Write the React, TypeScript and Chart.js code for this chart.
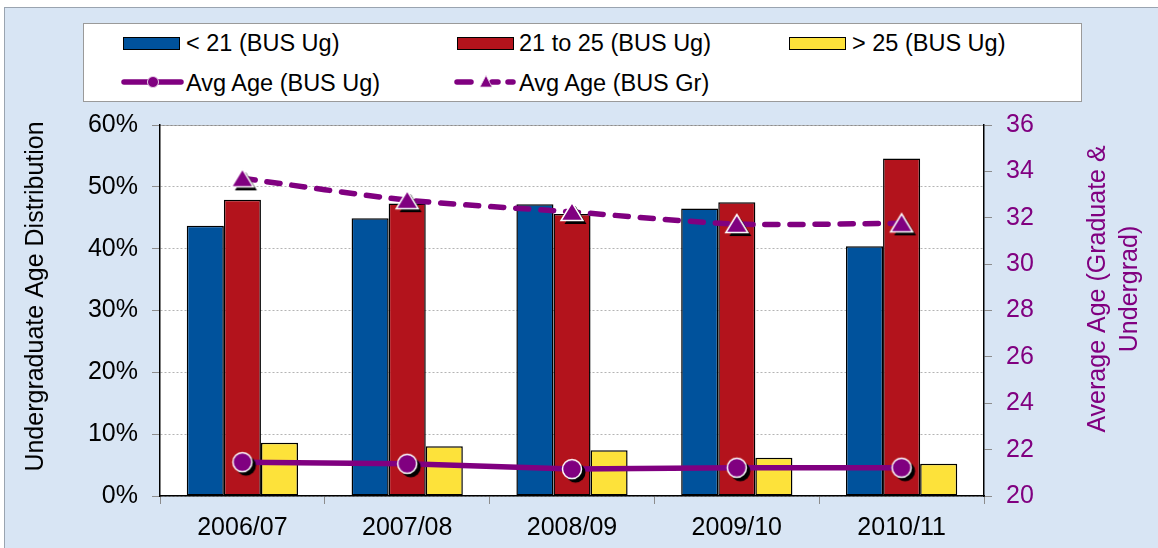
import React, { useEffect, useRef } from 'react';
import { Chart, registerables } from 'chart.js';

Chart.register(...registerables);

// ---- data ----
const categories = ['2006/07', '2007/08', '2008/09', '2009/10', '2010/11'];
const under21 = [43.7, 44.9, 47.2, 46.5, 40.4];
const from21to25 = [47.9, 47.3, 45.6, 47.5, 54.6];
const over25 = [8.6, 8.05, 7.4, 6.2, 5.2];
const avgAgeUg = [21.46, 21.39, 21.16, 21.22, 21.22];
const avgAgeGr = [33.7, 32.76, 32.25, 31.73, 31.76];
const leftTicks = { min: 0, max: 60, step: 10 };
const rightTicks = { min: 20, max: 36, step: 2 };
const leftTitle = 'Undergraduate Age Distribution';
const rightTitleLines = ['Average Age (Graduate &', 'Undergrad)'];
const seriesNames = ['< 21 (BUS Ug)', '21 to 25 (BUS Ug)', '> 25 (BUS Ug)', 'Avg Age (BUS Ug)', 'Avg Age (BUS Gr)'];

const BLUE = '#00529c';
const RED = '#b3131c';
const YELLOW = '#fde23a';
const PURPLE = '#800080';
const FONT = '"Liberation Sans", Arial, sans-serif';

function makeCircle(): HTMLCanvasElement {
  const c = document.createElement('canvas');
  c.width = 32; c.height = 32;
  const ctx = c.getContext('2d')!;
  ctx.fillStyle = '#000';
  ctx.beginPath(); ctx.arc(19.5, 19.5, 10, 0, Math.PI * 2); ctx.fill();
  ctx.fillStyle = PURPLE;
  ctx.strokeStyle = '#fff';
  ctx.lineWidth = 1.5;
  ctx.beginPath(); ctx.arc(16, 16, 9.5, 0, Math.PI * 2); ctx.fill(); ctx.stroke();
  return c;
}

function makeTriangle(): HTMLCanvasElement {
  const c = document.createElement('canvas');
  c.width = 34; c.height = 34;
  const ctx = c.getContext('2d')!;
  const tri = (cx: number, cy: number) => {
    ctx.beginPath();
    ctx.moveTo(cx, cy - 9.5);
    ctx.lineTo(cx + 11, cy + 8.5);
    ctx.lineTo(cx - 11, cy + 8.5);
    ctx.closePath();
  };
  ctx.fillStyle = '#000';
  tri(20.5, 20.5); ctx.fill();
  ctx.fillStyle = PURPLE;
  ctx.strokeStyle = '#fff';
  ctx.lineWidth = 1.5;
  tri(17, 17); ctx.fill(); ctx.stroke();
  return c;
}

const titlesPlugin = {
  id: 'customTitles',
  beforeDraw(chart: any) {
    const { ctx, chartArea } = chart;
    ctx.save();
    ctx.fillStyle = '#fff';
    ctx.fillRect(chartArea.left, chartArea.top, chartArea.right - chartArea.left, chartArea.bottom - chartArea.top);
    ctx.strokeStyle = '#8c8c8c';
    ctx.lineWidth = 1;
    ctx.beginPath();
    ctx.moveTo(chartArea.left, chartArea.top + 0.5);
    ctx.lineTo(chartArea.right, chartArea.top + 0.5);
    ctx.stroke();
    ctx.restore();
  },
  afterDraw(chart: any) {
    const { ctx } = chart;
    ctx.save();
    ctx.font = `25px ${FONT}`;
    ctx.textAlign = 'center';
    ctx.textBaseline = 'middle';
    ctx.fillStyle = '#000';
    ctx.translate(36.5, 296.5);
    ctx.rotate(-Math.PI / 2);
    ctx.fillText(leftTitle, 0, 0);
    ctx.restore();

    ctx.save();
    ctx.font = `25px ${FONT}`;
    ctx.textAlign = 'center';
    ctx.textBaseline = 'middle';
    ctx.fillStyle = PURPLE;
    const xs = [1098, 1130];
    rightTitleLines.forEach((line, i) => {
      ctx.save();
      ctx.translate(xs[i], 289);
      ctx.rotate(-Math.PI / 2);
      ctx.fillText(line, 0, 0);
      ctx.restore();
    });
    ctx.restore();
  },
};

function Legend() {
  const textStyle = (left: number, top: number): React.CSSProperties => ({
    position: 'absolute', left, top, font: `23.5px ${FONT}`, lineHeight: '26px', color: '#000', whiteSpace: 'nowrap',
  });
  const box = (left: number, color: string): React.CSSProperties => ({
    position: 'absolute', left, top: 36.5, width: 57, height: 13, background: color,
    border: '1.5px solid #000', boxSizing: 'border-box',
  });
  return (
    <div>
      <div style={{ position: 'absolute', left: 83, top: 23, width: 999, height: 79, background: '#fff', border: '1px solid #9a9a9a', boxSizing: 'border-box' }} />
      <div style={box(123, BLUE)} />
      <div style={textStyle(186, 30)}>{seriesNames[0]}</div>
      <div style={box(457, RED)} />
      <div style={textStyle(519, 30)}>{seriesNames[1]}</div>
      <div style={box(789, YELLOW)} />
      <div style={textStyle(852, 30)}>{seriesNames[2]}</div>
      <svg style={{ position: 'absolute', left: 121, top: 72 }} width={64} height={20}>
        <line x1={3} y1={10} x2={60} y2={10} stroke={PURPLE} strokeWidth={5.5} strokeLinecap="round" />
        <circle cx={32} cy={10} r={5.5} fill={PURPLE} stroke="#e8d0e8" strokeWidth={1} />
      </svg>
      <div style={textStyle(186, 69.5)}>{seriesNames[3]}</div>
      <svg style={{ position: 'absolute', left: 454, top: 72 }} width={64} height={20}>
        <line x1={3} y1={10} x2={17} y2={10} stroke={PURPLE} strokeWidth={5.5} strokeLinecap="round" />
        <line x1={38} y1={10} x2={44} y2={10} stroke={PURPLE} strokeWidth={5.5} strokeLinecap="round" />
        <line x1={54} y1={10} x2={59} y2={10} stroke={PURPLE} strokeWidth={5.5} strokeLinecap="round" />
        <polygon points="32,3.5 38,15 26,15" fill={PURPLE} stroke="#e8d0e8" strokeWidth={0.8} />
      </svg>
      <div style={textStyle(519, 69.5)}>{seriesNames[4]}</div>
    </div>
  );
}

export default function App() {
  const ref = useRef<HTMLCanvasElement>(null);
  useEffect(() => {
    if (!ref.current) return;
    const circle = makeCircle();
    const triangle = makeTriangle();
    const tickFont = { family: FONT, size: 25 };
    const barCommon = { yAxisID: 'y', order: 1, borderColor: '#000', borderWidth: 1.5, borderSkipped: false, categoryPercentage: 0.675, barPercentage: 1 };
    const chart = new Chart(ref.current, {
      type: 'bar',
      data: {
        labels: categories,
        datasets: [
          {
            type: 'line', label: seriesNames[3], data: avgAgeUg, yAxisID: 'y1', order: 0,
            borderColor: PURPLE, borderWidth: 5.5, tension: 0,
            pointStyle: circle as any, pointRadius: 10, backgroundColor: PURPLE,
          } as any,
          {
            type: 'line', label: seriesNames[4], data: avgAgeGr, yAxisID: 'y1', order: 0,
            borderColor: PURPLE, borderWidth: 5.5, tension: 0.25, borderDash: [13, 12], borderCapStyle: 'round',
            pointStyle: triangle as any, pointRadius: 10, backgroundColor: PURPLE,
          } as any,
          { type: 'bar', label: seriesNames[0], data: under21, backgroundColor: BLUE, ...barCommon } as any,
          { type: 'bar', label: seriesNames[1], data: from21to25, backgroundColor: RED, ...barCommon } as any,
          { type: 'bar', label: seriesNames[2], data: over25, backgroundColor: YELLOW, ...barCommon } as any,
        ],
      },
      options: {
        animation: false,
        responsive: false,
        devicePixelRatio: 1,
        layout: { padding: { top: 125, left: 0, right: 0, bottom: 0 } },
        plugins: { legend: { display: false }, tooltip: { enabled: false } },
        scales: {
          x: {
            offset: true,
            grid: { offset: true, drawOnChartArea: false, tickLength: 8, color: '#8c8c8c' },
            border: { display: true, color: '#000', width: 1.5 },
            ticks: { font: tickFont, color: '#000', padding: 9 },
            afterFit: (s: any) => { s.height = 52; },
          },
          y: {
            position: 'left', min: leftTicks.min, max: leftTicks.max,
            ticks: { stepSize: leftTicks.step, font: tickFont, color: '#000', padding: 14, callback: (v: any) => `${v}%` },
            grid: { color: '#b4b4b4', tickColor: '#8c8c8c', tickLength: 8, lineWidth: 1 },
            border: { display: true, color: '#000', width: 1.5, dash: [2, 2] },
            afterFit: (s: any) => { s.width = 160; },
          },
          y1: {
            position: 'right', min: rightTicks.min, max: rightTicks.max,
            ticks: { stepSize: rightTicks.step, font: tickFont, color: PURPLE, padding: 14 },
            grid: { drawOnChartArea: false, tickColor: '#8c8c8c', tickLength: 8 },
            border: { display: true, color: '#000', width: 1.5 },
            afterFit: (s: any) => { s.width = 174; },
          },
        },
      },
      plugins: [titlesPlugin],
    });
    return () => chart.destroy();
  }, []);

  return (
    <div style={{ position: 'fixed', left: 0, top: 0, width: 1158, height: 548, background: '#fff', overflow: 'hidden' }}>
      <div style={{ position: 'absolute', left: 4, top: 7, width: 1154, height: 541, background: '#d8e5f4', borderLeft: '1px solid #9aa4b0', borderTop: '1px solid #9aa4b0', boxSizing: 'border-box' }} />
      <Legend />
      <canvas ref={ref} width={1158} height={548} style={{ position: 'absolute', left: 0, top: 0, width: 1158, height: 548 }} />
    </div>
  );
}
